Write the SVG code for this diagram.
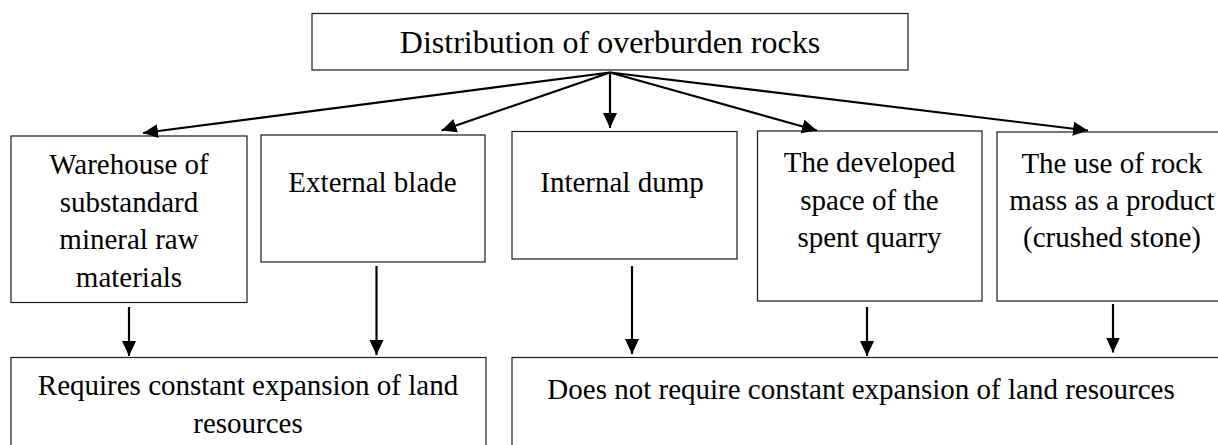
<svg xmlns="http://www.w3.org/2000/svg" width="1218" height="445" viewBox="0 0 1218 445">
  <style>
    .box { fill: #ffffff; stroke: #1a1a1a; stroke-width: 1.2; }
    .t { font-family: "Liberation Serif", "Times New Roman", serif; font-size: 29px; fill: #000; text-anchor: middle; }
    .title { font-size: 32px; }
    .arr { stroke: #000; stroke-width: 2.2; fill: none; marker-end: url(#ah); }
  </style>
  <defs>
    <marker id="ah" markerUnits="userSpaceOnUse" markerWidth="16" markerHeight="16" viewBox="0 0 16 14" refX="15" refY="7" orient="auto">
      <path d="M0,0 L15,7 L0,14 Z" fill="#000"/>
    </marker>
  </defs>
  <rect width="1218" height="445" fill="#ffffff"/>

  <g id="node-root">
    <rect class="box" x="312" y="13.5" width="596" height="56.5"/>
    <text class="t title" x="610" y="53">Distribution of overburden rocks</text>
  </g>

  <g id="node-warehouse">
    <rect class="box" x="11" y="136" width="236" height="166.5"/>
    <text class="t" x="129" y="174">Warehouse of</text>
    <text class="t" x="129" y="211.5">substandard</text>
    <text class="t" x="129" y="249">mineral raw</text>
    <text class="t" x="129" y="286.5">materials</text>
  </g>

  <g id="node-external">
    <rect class="box" x="261" y="135" width="224" height="127"/>
    <text class="t" x="372.5" y="192">External blade</text>
  </g>

  <g id="node-internal">
    <rect class="box" x="512" y="131.5" width="225" height="127.5"/>
    <text class="t" x="622" y="192">Internal dump</text>
  </g>

  <g id="node-developed">
    <rect class="box" x="757.5" y="131" width="224.5" height="170"/>
    <text class="t" x="869.5" y="172">The developed</text>
    <text class="t" x="869.5" y="209.5">space of the</text>
    <text class="t" x="869.5" y="247">spent quarry</text>
  </g>

  <g id="node-product">
    <rect class="box" x="997" y="132" width="240" height="169"/>
    <text class="t" x="1112" y="173">The use of rock</text>
    <text class="t" x="1112" y="210">mass as a product</text>
    <text class="t" x="1112" y="247">(crushed stone)</text>
  </g>

  <g id="node-requires">
    <rect class="box" x="11" y="357.5" width="475" height="110"/>
    <text class="t" x="248" y="395">Requires constant expansion of land</text>
    <text class="t" x="248" y="433">resources</text>
  </g>

  <g id="node-not-requires">
    <rect class="box" x="512" y="357.5" width="730" height="110"/>
    <text class="t" x="861" y="398.5">Does not require constant expansion of land resources</text>
  </g>

  <g id="connectors">
    <line class="arr" x1="610" y1="72.5" x2="143" y2="133"/>
    <line class="arr" x1="610" y1="72.5" x2="441.5" y2="130.5"/>
    <line class="arr" x1="610" y1="72.5" x2="610" y2="128"/>
    <line class="arr" x1="610" y1="72.5" x2="817" y2="130.5"/>
    <line class="arr" x1="610" y1="72.5" x2="1088" y2="130.5"/>

    <line class="arr" x1="129" y1="307" x2="129" y2="356"/>
    <line class="arr" x1="376.5" y1="266" x2="376.5" y2="355"/>
    <line class="arr" x1="632" y1="266" x2="632" y2="354"/>
    <line class="arr" x1="867" y1="307" x2="867" y2="356"/>
    <line class="arr" x1="1113" y1="304" x2="1113" y2="352.5"/>
  </g>
</svg>
